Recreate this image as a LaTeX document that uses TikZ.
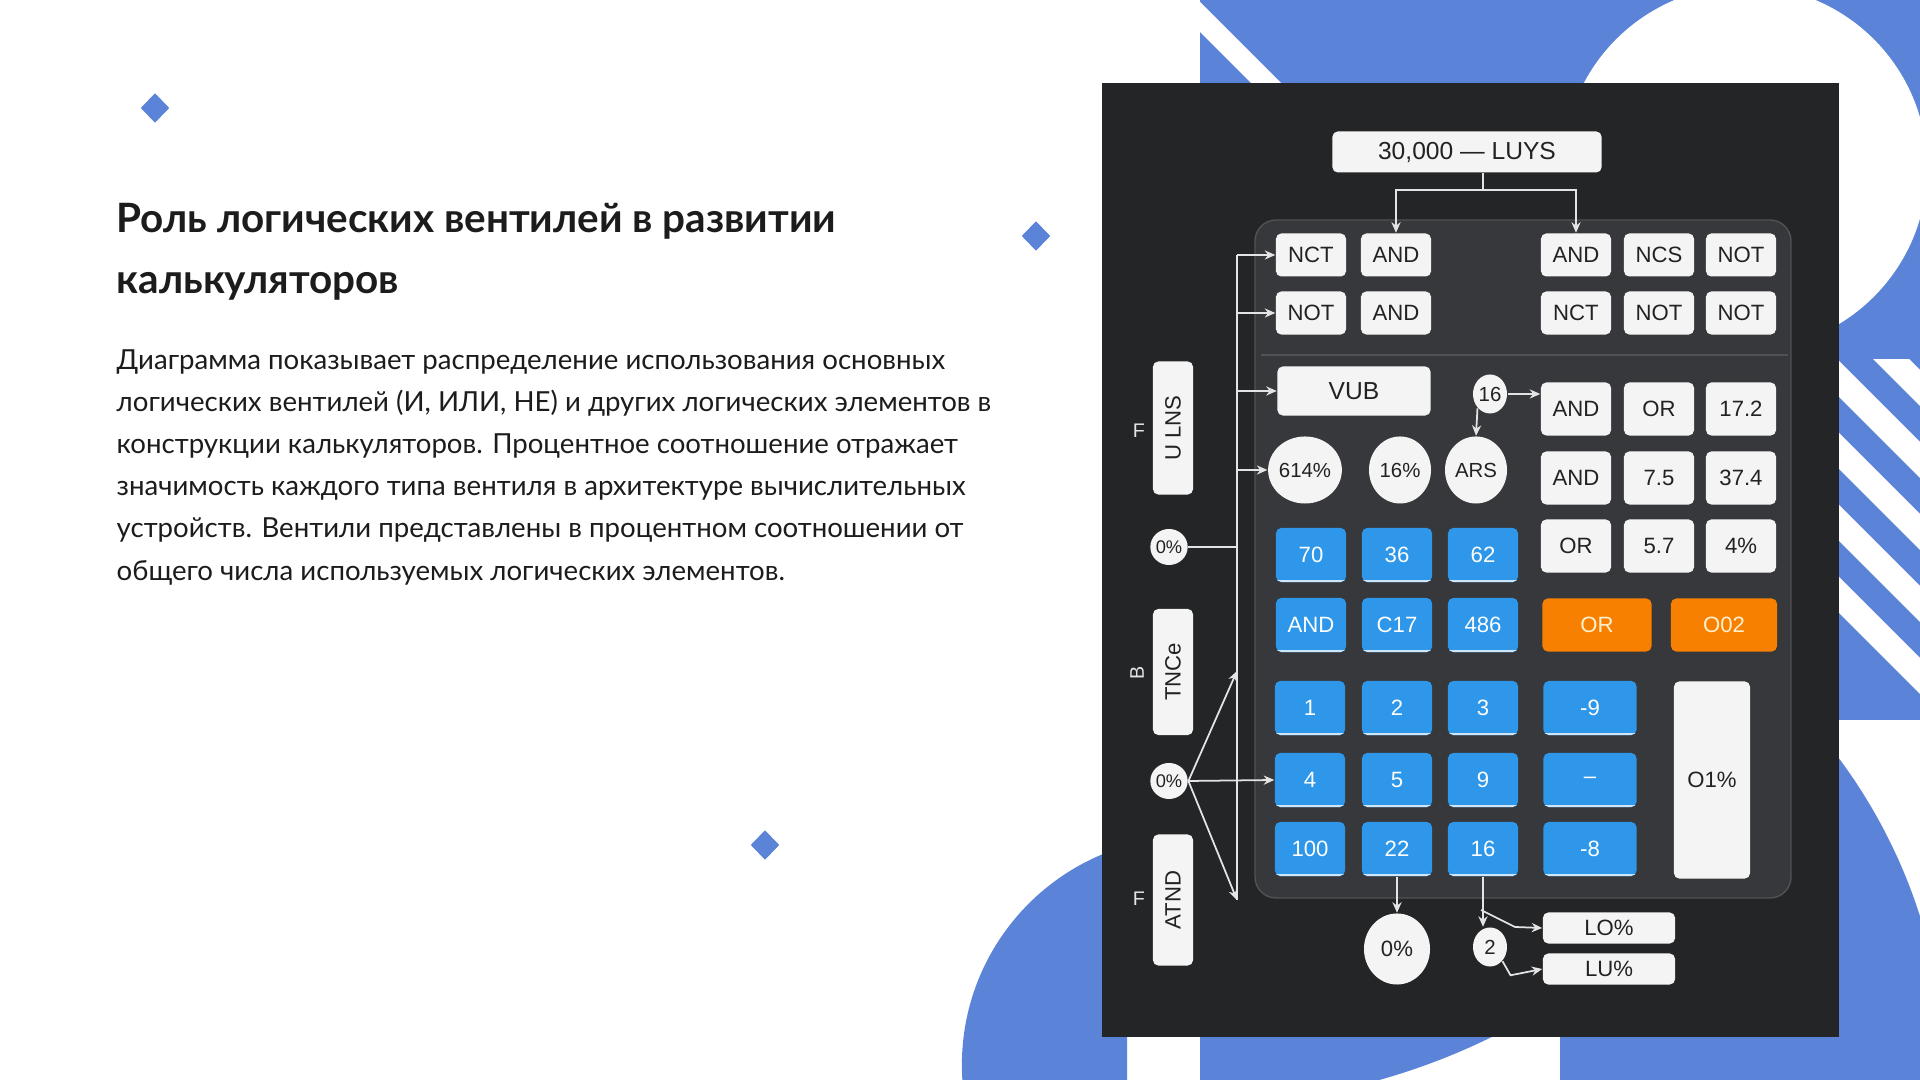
\documentclass[tikz,border=0pt]{standalone}
\usepackage{fontspec}
\setmainfont{Lato}
\newfontfamily\panelfont{Liberation Sans}
\usetikzlibrary{shapes.geometric,arrows.meta,positioning}

\definecolor{deco}{RGB}{91,132,217}
\definecolor{board}{RGB}{35,37,39}
\definecolor{pad}{RGB}{54,56,59}
\definecolor{padline}{RGB}{80,82,85}
\definecolor{keyblue}{RGB}{46,151,233}
\definecolor{keyedge}{RGB}{205,230,250}
\definecolor{keyorange}{RGB}{247,128,0}
\definecolor{orangetext}{RGB}{255,240,205}
\definecolor{paper}{RGB}{244,244,244}
\definecolor{ink}{RGB}{34,34,34}
\definecolor{wire}{RGB}{228,228,228}
\definecolor{textink}{RGB}{28,28,28}

\tikzset{
  gate/.style={fill=paper, rounded corners=1.5pt, minimum width=0.7cm, minimum height=0.43cm,
    inner sep=0pt, text=ink, font=\panelfont\fontsize{6.3}{7}\selectfont},
  tall/.style={gate, minimum height=0.53cm},
  keybtn/.style={fill=keyblue, rounded corners=1.5pt, minimum width=0.7cm, minimum height=0.54cm,
    inner sep=0pt, text=white, font=\panelfont\fontsize{6.3}{7}\selectfont,
    path picture={\draw[keyedge, line width=0.9pt]
      (path picture bounding box.south west) -- (path picture bounding box.south east);}},
  orangebtn/.style={keybtn, fill=keyorange, text=orangetext,
    path picture={}},
  blob/.style={ellipse, fill=paper, inner sep=0pt, text=ink, font=\panelfont\fontsize{5.8}{6.5}\selectfont},
  tag/.style={gate, rotate=90, minimum height=0.4cm},
  side/.style={text=wire, inner sep=0pt, font=\panelfont\fontsize{5.6}{6}\selectfont},
  gem/.style={diamond, fill=deco, minimum width=0.29cm, minimum height=0.3cm, inner sep=0pt},
  wireline/.style={draw=wire, line width=0.5pt},
  arr/.style={wireline, -{Stealth[length=3pt,width=2.6pt]}},
  headline/.style={anchor=base west, inner sep=0pt, text=textink, font=\bfseries\fontsize{11.5}{14}\selectfont},
  bodyline/.style={anchor=base west, inner sep=0pt, text=textink, font=\fontsize{7.85}{10}\selectfont}
}

\begin{document}
\begin{tikzpicture}[x=0.01cm,y=-0.01cm]
    \useasboundingbox (0,0) rectangle (1920,1080);
    \fill[white] (0,0) rectangle (1920,1080);

    %%background tiles
    \begin{scope}
        \clip (1200,0) rectangle (1560,360);
        \fill[deco] (1200,0) rectangle (1560,360);
        \fill[white] (1200,2) -- (1400,202) -- (1370,202) -- (1200,32) -- cycle;
    \end{scope}
    \begin{scope}
        \clip (1560,0) rectangle (1920,360);
        \fill[deco] (1560,0) rectangle (1920,360);
        \fill[white] (1745,168) circle[radius=1.82cm];
    \end{scope}
    \begin{scope}
        \clip (1560,360) rectangle (1920,720);
        \fill[deco] (1560,360) rectangle (1920,720);
        \foreach \c in {-1550,-1478,-1406,-1334,-1262}
            \fill[white] (1560,1560+\c) -- (1920,1920+\c) -- (1920,1956+\c) -- (1560,1596+\c) -- cycle;
    \end{scope}
    \begin{scope}
        \clip (1560,720) rectangle (1920,1080);
        \fill[deco] (1406,1080) circle[radius=5.39cm];
    \end{scope}
    \begin{scope}
        \clip (1200,720) rectangle (1560,1080);
        \fill[deco] (1201,445) circle[radius=6.59cm];
    \end{scope}
    \begin{scope}
        \clip (840,720) rectangle (1127,1080);
        \fill[deco] (1190,1065) circle[radius=2.28cm];
    \end{scope}

    \node[gem] (m1) at (155,108) {};
    \node[gem] (m2) at (1036,236) {};
    \node[gem] (m3) at (765,845) {};

    %%text
    \node[headline] (h1) at (116,233) {Роль логических вентилей в развитии};
    \node[headline] (h2) at (116,294) {калькуляторов};
    \node[bodyline] (b1) at (116,370) {Диаграмма показывает распределение использования основных};
    \node[bodyline] (b2) at (116,412) {логических вентилей (И, ИЛИ, НЕ) и других логических элементов в};
    \node[bodyline] (b3) at (116,454) {конструкции калькуляторов. Процентное соотношение отражает};
    \node[bodyline] (b4) at (116,496) {значимость каждого типа вентиля в архитектуре вычислительных};
    \node[bodyline] (b5) at (116,538) {устройств. Вентили представлены в процентном соотношении от};
    \node[bodyline] (b6) at (116,581) {общего числа используемых логических элементов.};

    %%panel
    \fill[board] (1102,83) rectangle (1839,1037);
    \filldraw[fill=pad, draw=padline, rounded corners=6pt] (1255,220) rectangle (1791,898);
    \draw[padline, line width=0.8pt] (1261,355) -- (1788,355);

    \node[gate, minimum width=2.69cm, minimum height=0.41cm, font=\panelfont\fontsize{7}{8}\selectfont] (luys) at (1467,152) {30,000 — LUYS};

    \node[gate] (g11) at (1311,255) {NCT};
    \node[gate] (g12) at (1396,255) {AND};
    \node[gate] (g14) at (1576,255) {AND};
    \node[gate] (g15) at (1659,255) {NCS};
    \node[gate] (g16) at (1741,255) {NOT};
    \node[gate] (g21) at (1311,313) {NOT};
    \node[gate] (g22) at (1396,313) {AND};
    \node[gate] (g24) at (1576,313) {NCT};
    \node[gate] (g25) at (1659,313) {NOT};
    \node[gate] (g26) at (1741,313) {NOT};

    \node[gate, minimum width=1.53cm, minimum height=0.49cm, font=\panelfont\fontsize{7}{8}\selectfont] (vub) at (1354,391) {VUB};
    \node[blob, minimum width=0.34cm, minimum height=0.39cm] (s16) at (1490,394) {16};
    \node[blob, minimum width=0.62cm, minimum height=0.67cm] (p614) at (1305,470) {614\%};
    \node[blob, minimum width=0.62cm, minimum height=0.67cm] (p16) at (1400,470) {16\%};
    \node[blob, minimum width=0.62cm, minimum height=0.67cm] (ars) at (1476,470) {ARS};

    \node[tall] (t31) at (1576,409) {AND};
    \node[tall] (t32) at (1659,409) {OR};
    \node[tall] (t33) at (1741,409) {17.2};
    \node[tall] (t41) at (1576,478) {AND};
    \node[tall] (t42) at (1659,478) {7.5};
    \node[tall] (t43) at (1741,478) {37.4};
    \node[tall] (t51) at (1576,546) {OR};
    \node[tall] (t52) at (1659,546) {5.7};
    \node[tall] (t53) at (1741,546) {4\%};

    \node[keybtn] (k70) at (1311,555) {70};
    \node[keybtn] (k36) at (1397,555) {36};
    \node[keybtn] (k62) at (1483,555) {62};
    \node[keybtn] (kand) at (1311,625) {AND};
    \node[keybtn] (kc17) at (1397,625) {C17};
    \node[keybtn] (k486) at (1483,625) {486};
    \node[orangebtn, minimum width=1.09cm, minimum height=0.53cm] (kor) at (1597,625) {OR};
    \node[orangebtn, minimum width=1.06cm, minimum height=0.53cm] (ko02) at (1724,625) {O02};

    \node[keybtn] (k1) at (1310,708) {1};
    \node[keybtn] (k2) at (1397,708) {2};
    \node[keybtn] (k3) at (1483,708) {3};
    \node[keybtn, minimum width=0.93cm] (km9) at (1590,708) {-9};
    \node[keybtn] (k4) at (1310,780) {4};
    \node[keybtn] (k5) at (1397,780) {5};
    \node[keybtn] (k9) at (1483,780) {9};
    \node[keybtn, minimum width=0.93cm] (kdash) at (1590,780) {–};
    \node[keybtn] (k100) at (1310,849) {100};
    \node[keybtn] (k22) at (1397,849) {22};
    \node[keybtn] (k16) at (1483,849) {16};
    \node[keybtn, minimum width=0.93cm] (km8) at (1590,849) {-8};
    \node[gate, minimum width=0.76cm, minimum height=1.97cm] (o1) at (1712,780) {O1\%};

    %%left side
    \node[tag, minimum width=1.33cm] (ulns) at (1173,428) {U LNS};
    \node[tag, minimum width=1.26cm] (tnce) at (1173,672) {TNCe};
    \node[tag, minimum width=1.31cm] (atnd) at (1173,900) {ATND};
    \node[side] (f1) at (1139,431) {F};
    \node[side, rotate=90] (b1l) at (1137,673) {B};
    \node[side] (f2) at (1139,899) {F};
    \node[blob, minimum width=0.34cm, minimum height=0.36cm, font=\panelfont\fontsize{5.2}{6}\selectfont] (z1) at (1169,547) {0\%};
    \node[blob, minimum width=0.34cm, minimum height=0.36cm, font=\panelfont\fontsize{5.2}{6}\selectfont] (z2) at (1169,781) {0\%};

    %%bottom
    \node[blob, minimum width=0.66cm, minimum height=0.71cm, font=\panelfont\fontsize{6.3}{7}\selectfont] (z3) at (1397,949) {0\%};
    \node[blob, minimum width=0.34cm, minimum height=0.39cm] (two) at (1490,947) {2};
    \node[gate, minimum width=1.32cm, minimum height=0.31cm] (lo) at (1609,928) {LO\%};
    \node[gate, minimum width=1.32cm, minimum height=0.31cm] (lu) at (1609,969) {LU\%};

    %%connectors
    \coordinate (split) at (1483,190);
    \coordinate (bustop) at (1237,255);
    \coordinate (busup) at (1237,671);
    \coordinate (busbot) at (1237,900);
    \coordinate (tap) at (1481,910);

    \draw[wireline] (split |- luys.south) -- (split);
    \draw[arr] (split) -| (g12.north);
    \draw[arr] (split) -| (g14.north);

    \draw[wireline] (bustop) -- (busbot);
    \draw[arr] (bustop) -- (g11.west);
    \draw[arr] (bustop |- g21) -- (g21.west);
    \draw[arr] (bustop |- vub) -- (vub.west);
    \draw[arr] (bustop |- p614) -- (p614.west);
    \draw[wireline] (z1.east) -- (z1 -| bustop);
    \draw[arr] (z2.east) -- (k4.west);
    \draw[arr] (z2.east) -- (busup);
    \draw[arr] (z2.east) -- (busbot);

    \draw[arr] (s16.east) -- (s16.east -| t31.west);
    \draw[arr] (s16.south west) -- (ars.north);

    \draw[arr] (k22.south) -- (z3.north);
    \draw[arr] (k16.south) -- (k16.south |- two.north);
    \draw[arr] (tap) -- ++(34,17) -- (lo.west);
    \draw[arr] (two.south east) -- ++(8,14) -- (lu.west);
\end{tikzpicture}
\end{document}
